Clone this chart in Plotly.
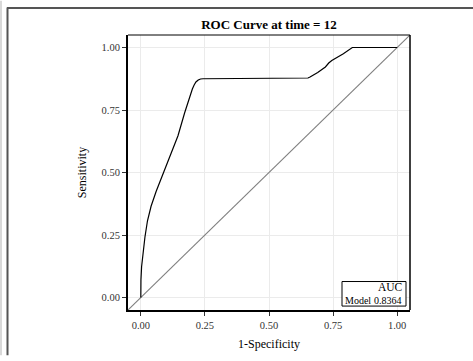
import plotly.graph_objects as go

# ROC curve points (1-Specificity, Sensitivity)
fpr = [0.000, 0.000, 0.0005, 0.003, 0.008, 0.016, 0.026, 0.040, 0.060, 0.085, 0.116,
       0.145, 0.171, 0.195, 0.201, 0.208, 0.215, 0.224, 0.233, 0.243, 0.400, 0.550,
       0.645, 0.652, 0.660, 0.690, 0.720, 0.733, 0.745, 0.790, 0.825, 0.900, 1.000]
tpr = [0.000, 0.030, 0.071, 0.123, 0.175, 0.241, 0.307, 0.365, 0.425, 0.490, 0.568,
       0.647, 0.739, 0.818, 0.834, 0.850, 0.862, 0.870, 0.874, 0.875, 0.875, 0.875,
       0.875, 0.878, 0.882, 0.900, 0.922, 0.938, 0.948, 0.975, 1.000, 1.000, 1.000]
ref_line = [-0.05, 1.05]
tick_vals = [0, 0.25, 0.5, 0.75, 1.0]
tick_text = ["0.00", "0.25", "0.50", "0.75", "1.00"]
auc_label = "Model"
auc_value = "0.8364"

W, H = 473, 361
L, R, T, B = 128, 63, 35, 46
pw, ph = W - L - R, H - T - B

def px2paper_x(px):
    return (px - L) / pw

def px2paper_y(py):
    return (H - B - py) / ph

font = "Liberation Serif, Times New Roman, serif"

fig = go.Figure()
fig.add_trace(go.Scatter(x=ref_line, y=ref_line, mode="lines",
                         line=dict(color="#7f7f7f", width=1.1), hoverinfo="skip"))
fig.add_trace(go.Scatter(x=fpr, y=tpr, mode="lines",
                         line=dict(color="black", width=1.2)))

axis_common = dict(
    range=[-0.05, 1.05], tickvals=tick_vals, ticktext=tick_text,
    showgrid=True, gridcolor="#ebebeb", gridwidth=1, zeroline=False,
    showline=True, linecolor="black", linewidth=2, mirror=False,
    ticks="outside", ticklen=4, tickcolor="#333333", tickwidth=1,
    tickfont=dict(family=font, size=10.5, color="#333333"),
)

fig.update_layout(
    width=W, height=H,
    margin=dict(l=L, r=R, t=T, b=B),
    paper_bgcolor="white", plot_bgcolor="white",
    showlegend=False,
    title=dict(text="<b>ROC Curve at time = 12</b>", x=269 / W,
               xanchor="center", y=1 - 24 / H, yanchor="middle",
               font=dict(family=font, size=13, color="black")),
    xaxis=dict(**axis_common,
               title=dict(text="1-Specificity", font=dict(family=font, size=12, color="black"),
                          standoff=10)),
    yaxis=dict(**axis_common,
               title=dict(text="Sensitivity", font=dict(family=font, size=12, color="black"),
                          standoff=12)),
)

shapes = [
    # top and right plot border
    dict(type="line", xref="paper", yref="paper", x0=0, x1=1, y0=1, y1=1,
         line=dict(color="black", width=1)),
    dict(type="line", xref="paper", yref="paper", x0=1, x1=1, y0=0, y1=1,
         line=dict(color="black", width=1.5)),
    # outer frame pieces
    dict(type="line", xref="paper", yref="paper",
         x0=px2paper_x(7.5), x1=px2paper_x(7.5), y0=px2paper_y(7), y1=px2paper_y(361),
         line=dict(color="#555555", width=2)),
    dict(type="line", xref="paper", yref="paper",
         x0=px2paper_x(7), x1=px2paper_x(473), y0=px2paper_y(7.5), y1=px2paper_y(7.5),
         line=dict(color="#555555", width=2)),
    dict(type="line", xref="paper", yref="paper",
         x0=px2paper_x(1), x1=px2paper_x(1), y0=px2paper_y(0), y1=px2paper_y(361),
         line=dict(color="#cccccc", width=1.5)),
    # AUC legend box
    dict(type="rect", xref="paper", yref="paper",
         x0=px2paper_x(342), x1=px2paper_x(406), y0=px2paper_y(311), y1=px2paper_y(286),
         line=dict(color="black", width=1), fillcolor="white"),
]
fig.update_layout(shapes=shapes)

fig.add_annotation(xref="paper", yref="paper", x=px2paper_x(404), y=px2paper_y(292),
                   text="AUC", showarrow=False, xanchor="right", yanchor="middle",
                   font=dict(family=font, size=11.5, color="black"), borderpad=0)
fig.add_annotation(xref="paper", yref="paper", x=px2paper_x(344), y=px2paper_y(305),
                   text=auc_label, showarrow=False, xanchor="left", yanchor="middle",
                   font=dict(family=font, size=10, color="black"), borderpad=0)
fig.add_annotation(xref="paper", yref="paper", x=px2paper_x(403), y=px2paper_y(305),
                   text=auc_value, showarrow=False, xanchor="right", yanchor="middle",
                   font=dict(family=font, size=10, color="black"), borderpad=0)

fig.write_html("out.html")
